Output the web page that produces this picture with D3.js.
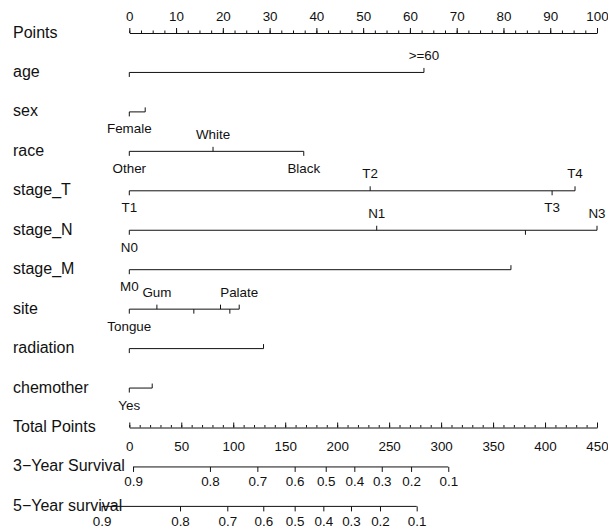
<!DOCTYPE html>
<html>
<head>
<meta charset="utf-8">
<script src="https://cdn.jsdelivr.net/npm/d3@7"></script>
<style>
  body { margin: 0; background: #fff; }
  svg { font-family: "Liberation Sans", Arial, sans-serif; }
</style>
</head>
<body>
<div id="chart"></div>
<script>
// Points (0-100 scale)
const rowNames = ['Points', 'age', 'sex', 'race', 'stage_T', 'stage_N', 'stage_M', 'site',
  'radiation', 'chemother', 'Total Points', '3\u2212Year Survival', '5\u2212Year survival'];

const ageLabels = ['', '>=60'];
const agePoints = [0, 63];
const sexLabels = ['Female', ''];
const sexPoints = [0, 3.4];
const raceLabels = ['Other', 'White', 'Black'];
const racePoints = [0, 17.9, 37.3];
const stageTLabels = ['T1', 'T2', 'T3', 'T4'];
const stageTPoints = [0, 51.5, 90.4, 95.3];
const stageNLabels = ['N0', 'N1', '', 'N3'];
const stageNPoints = [0, 52.9, 84.7, 100];
const stageMLabels = ['M0', ''];
const stageMPoints = [0, 81.6];
const siteLabels = ['Tongue', 'Gum', '', '', '', 'Palate'];
const sitePoints = [0, 5.9, 13.8, 19.5, 21.5, 23.5];
const radiationLabels = ['', ''];
const radiationPoints = [0, 28.7];
const chemoLabels = ['Yes', ''];
const chemoPoints = [0, 4.9];

// survival axes: labels and their position on the total points scale
const survLabels = ['0.9', '0.8', '0.7', '0.6', '0.5', '0.4', '0.3', '0.2', '0.1'];
const surv3Total = [3.6, 77.6, 123.2, 159.1, 189.0, 216.5, 242.9, 271.1, 306.9];
const surv5Total = [-26.6, 48.8, 94.3, 128.9, 159.1, 186.7, 213.3, 241.2, 276.5];

const width = 608, height = 532;
const left = 129.3, right = 597;
const rowY = i => 33 + i * 39.45;
const ink = '#111';
const small = 13.4;

const svg = d3.select('#chart').append('svg')
  .attr('width', width).attr('height', height);

const x = d3.scaleLinear().domain([0, 100]).range([left, right]);
const xTotal = d3.scaleLinear().domain([0, 450]).range([left, right]);

// row labels
svg.append('g').selectAll('text')
  .data(rowNames)
  .join('text')
  .attr('x', 13)
  .attr('y', (d, i) => rowY(i) + 4.5)
  .attr('font-size', 16)
  .attr('fill', ink)
  .text(d => d);

function styleAxis(g) {
  g.selectAll('path, line').attr('stroke', ink).attr('stroke-width', 1);
  g.selectAll('text').attr('fill', ink).attr('font-size', small)
    .attr('font-family', '"Liberation Sans", Arial, sans-serif');
}

// Points axis (ticks up)
svg.append('g')
  .attr('transform', `translate(0,${rowY(0)})`)
  .call(d3.axisTop(x).tickValues(d3.range(0, 100.01, 2.5)).tickSize(2.5).tickSizeOuter(0).tickFormat(''))
  .call(styleAxis);
svg.append('g')
  .attr('transform', `translate(0,${rowY(0)})`)
  .call(d3.axisTop(x).tickValues(d3.range(0, 101, 10)).tickSize(5).tickSizeOuter(0).tickPadding(7))
  .call(g => g.select('.domain').remove())
  .call(styleAxis);

// variable rows
const vars = [
  [ageLabels, agePoints], [sexLabels, sexPoints], [raceLabels, racePoints],
  [stageTLabels, stageTPoints], [stageNLabels, stageNPoints], [stageMLabels, stageMPoints],
  [siteLabels, sitePoints], [radiationLabels, radiationPoints], [chemoLabels, chemoPoints]
];

vars.forEach(([labels, pts], vi) => {
  const y0 = rowY(vi + 1);
  const g = svg.append('g').attr('transform', `translate(0,${y0})`);
  // levels alternate below/above in order of points
  const levels = labels.map((l, i) => ({ label: l, pts: pts[i] }))
    .sort((a, b) => a.pts - b.pts)
    .map((d, i) => ({ ...d, up: i % 2 === 1 }));
  g.append('line')
    .attr('x1', x(d3.min(pts))).attr('x2', x(d3.max(pts)))
    .attr('stroke', ink).attr('stroke-width', 1);
  g.selectAll('line.tick')
    .data(levels)
    .join('line')
    .attr('class', 'tick')
    .attr('x1', d => x(d.pts)).attr('x2', d => x(d.pts))
    .attr('y1', 0).attr('y2', d => d.up ? -4.5 : 4.5)
    .attr('stroke', ink).attr('stroke-width', 1);
  g.selectAll('text')
    .data(levels.filter(d => d.label !== ''))
    .join('text')
    .attr('x', d => x(d.pts))
    .attr('y', d => d.up ? -12.5 : 21.5)
    .attr('text-anchor', 'middle')
    .attr('font-size', small)
    .attr('fill', ink)
    .text(d => d.label);
});

// Total points axis: ticks up, labels below
svg.append('g')
  .attr('transform', `translate(0,${rowY(10)})`)
  .call(d3.axisTop(xTotal).tickValues(d3.range(0, 451, 10)).tickSize(2.5).tickSizeOuter(0).tickFormat(''))
  .call(styleAxis);
svg.append('g')
  .attr('transform', `translate(0,${rowY(10)})`)
  .call(d3.axisTop(xTotal).tickValues(d3.range(0, 451, 50)).tickSize(5).tickFormat(''))
  .call(g => g.select('.domain').remove())
  .call(styleAxis);
svg.append('g')
  .attr('transform', `translate(0,${rowY(10)})`)
  .call(d3.axisBottom(xTotal).tickValues(d3.range(0, 451, 50)).tickSize(0).tickPadding(14))
  .call(g => g.select('.domain').remove())
  .call(styleAxis);

// survival axes
[[surv3Total, 11], [surv5Total, 12]].forEach(([tot, row]) => {
  const g = svg.append('g').attr('transform', `translate(0,${rowY(row)})`);
  g.append('line')
    .attr('x1', xTotal(d3.min(tot))).attr('x2', xTotal(d3.max(tot)))
    .attr('stroke', ink).attr('stroke-width', 1);
  g.call(d3.axisBottom(xTotal).tickValues(tot).tickSize(5).tickPadding(5)
      .tickFormat((d, i) => survLabels[i]))
    .call(a => a.select('.domain').remove())
    .call(styleAxis);
});
</script>
</body>
</html>
